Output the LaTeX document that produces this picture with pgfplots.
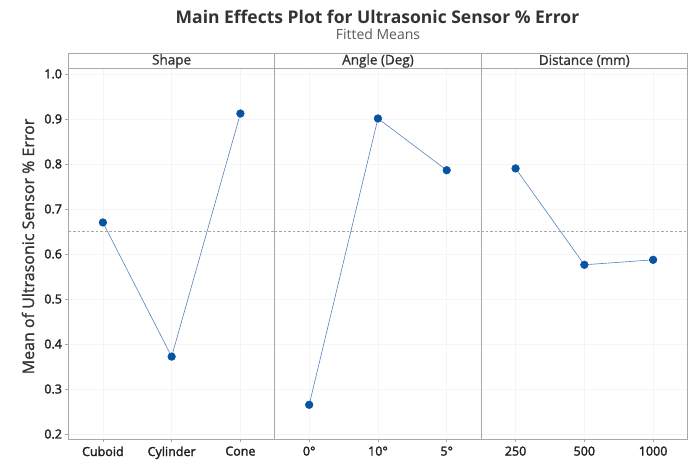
\documentclass[border=0pt]{standalone}
\usepackage{pgfplots}
\pgfplotsset{compat=1.18}
\usepackage{fontspec}
\setmainfont{Open Sans}
\newfontfamily\tickfont[FakeBold=2]{Open Sans}
\newfontfamily\headfont[FakeBold=1.3]{Open Sans}
\definecolor{markc}{RGB}{8,84,164}
\definecolor{linec}{RGB}{86,128,190}
\definecolor{gridc}{RGB}{245,245,245}
\definecolor{framec}{RGB}{168,168,168}
\definecolor{titlec}{RGB}{51,51,51}
\definecolor{subc}{RGB}{90,90,90}
\pgfplotsset{
  panel/.style={
    scale only axis, width=206.3bp, height=370.5bp,
    anchor=south west,
    xmin=0.5, xmax=3.5, ymin=0.189, ymax=1.012,
    xtick={1,2,3}, ytick={0.2,0.3,0.4,0.5,0.6,0.7,0.8,0.9,1.0},
    xtick pos=bottom, ytick pos=left,
    tick align=outside, major tick length=3bp,
    tick style={color=framec, line width=0.6bp},
    grid=major, major grid style={color=gridc, line width=0.5bp},
    axis line style={color=framec, line width=0.8bp},
    xticklabel style={font=\tickfont\fontsize{12.5bp}{14bp}\selectfont, text=black!88, yshift=-1bp},
    yticklabel style={font=\tickfont\fontsize{12.5bp}{14bp}\selectfont, text=black!88, /pgf/number format/.cd, fixed, fixed zerofill, precision=1},
    /pgf/number format/assume math mode=true,
  },
  ser/.style={color=linec, line width=0.6bp, mark=*, mark size=3.8bp,
    mark options={fill=markc, draw=markc}},
  meanl/.style={color=framec, line width=0.5bp, dash pattern=on 2.5bp off 2bp},
}
\begin{document}
\begin{tikzpicture}[x=1bp,y=1bp]
\useasboundingbox (0bp,0bp) rectangle (696bp,469bp);
% panel 1: Shape
\begin{axis}[panel, at={(68.5bp,30bp)}, xticklabels={Cuboid,Cylinder,Cone}]
\addplot[meanl] coordinates {(0.5,0.6513) (3.5,0.6513)};
\addplot[ser] coordinates {(1,0.670) (2,0.372) (3,0.912)};
\end{axis}
% panel 2: Angle
\begin{axis}[panel, at={(274.8bp,30bp)}, xticklabels={0°,10°,5°}, yticklabels={}, ytick style={draw=none}]
\addplot[meanl] coordinates {(0.5,0.6513) (3.5,0.6513)};
\addplot[ser] coordinates {(1,0.265) (2,0.901) (3,0.786)};
\end{axis}
% panel 3: Distance
\begin{axis}[panel, at={(481.2bp,30bp)}, xticklabels={250,500,1000}, yticklabels={}, ytick style={draw=none}]
\addplot[meanl] coordinates {(0.5,0.6513) (3.5,0.6513)};
\addplot[ser] coordinates {(1,0.790) (2,0.576) (3,0.587)};
\end{axis}
% header strip
\draw[framec, line width=0.8bp] (68.5bp,400.5bp) rectangle (687.5bp,415.5bp);
\draw[framec, line width=0.8bp] (274.8bp,400.5bp) -- (274.8bp,415.5bp);
\draw[framec, line width=0.8bp] (481.2bp,400.5bp) -- (481.2bp,415.5bp);
\node[text=titlec, font=\headfont\fontsize{13.5bp}{15bp}\selectfont] at (171.6bp,408bp) {Shape};
\node[text=titlec, font=\headfont\fontsize{13.5bp}{15bp}\selectfont] at (378bp,408bp) {Angle (Deg)};
\node[text=titlec, font=\headfont\fontsize{13.5bp}{15bp}\selectfont] at (584.3bp,408bp) {Distance (mm)};
% titles
\node[text=titlec, font=\bfseries\fontsize{17.5bp}{20bp}\selectfont] at (377.5bp,452bp) {Main Effects Plot for Ultrasonic Sensor \% Error};
\node[text=subc, font=\fontsize{14bp}{16bp}\selectfont] at (378bp,435bp) {Fitted Means};
\node[text=titlec, rotate=90, font=\headfont\fontsize{16bp}{18bp}\selectfont] at (28bp,222.5bp) {Mean of Ultrasonic Sensor \% Error};
\end{tikzpicture}
\end{document}
